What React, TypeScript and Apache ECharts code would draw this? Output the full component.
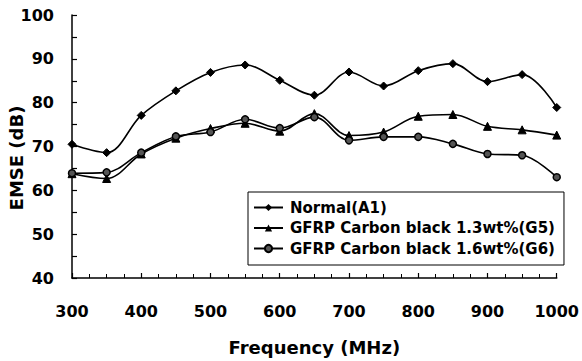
import React, { useEffect, useRef } from "react";
import * as echarts from "echarts";

const frequencies = [300, 350, 400, 450, 500, 550, 600, 650, 700, 750, 800, 850, 900, 950, 1000];
const normalA1 = [70.5, 68.6, 77.1, 82.7, 86.9, 88.6, 85.1, 81.7, 87.0, 83.8, 87.3, 88.9, 84.8, 86.4, 78.9];
const gfrpG5 = [63.8, 62.7, 68.3, 71.9, 74.1, 75.3, 73.5, 77.5, 72.5, 73.3, 76.9, 77.3, 74.6, 73.8, 72.6];
const gfrpG6 = [63.9, 64.1, 68.6, 72.3, 73.3, 76.2, 74.2, 76.7, 71.4, 72.2, 72.2, 70.6, 68.3, 68.0, 63.0];
const seriesNames = ["Normal(A1)", "GFRP Carbon black 1.3wt%(G5)", "GFRP Carbon black 1.6wt%(G6)"];
const xTitle = "Frequency (MHz)";
const yTitle = "EMSE (dB)";

const FONT = "DejaVu Sans";

export default function App() {
  const ref = useRef<HTMLDivElement>(null);
  useEffect(() => {
    if (!ref.current) return;
    const chart = echarts.init(ref.current, undefined, { renderer: "svg" });
    const mk = (vals: number[]) => frequencies.map((f, i) => [f, vals[i]]);
    const base = {
      type: "line" as const,
      smooth: 0.35,
      lineStyle: { color: "#000", width: 1.6 },
      itemStyle: { color: "#000", borderColor: "#000" },
    };
    chart.setOption({
      animation: false,
      backgroundColor: "#fff",
      grid: { left: 72, right: 23, top: 15, bottom: 82 },
      graphic: [
        {
          type: "text",
          x: 16,
          y: 158,
          rotation: Math.PI / 2,
          style: {
            text: yTitle,
            fontFamily: FONT,
            fontWeight: "bold",
            fontSize: 18,
            fill: "#000",
            align: "center",
            verticalAlign: "middle",
          },
        },
      ],
      xAxis: {
        type: "value",
        min: 300,
        max: 1000,
        interval: 100,
        name: xTitle,
        nameLocation: "middle",
        nameGap: 60,
        nameTextStyle: { fontFamily: FONT, fontWeight: "bold", fontSize: 18, color: "#000" },
        axisLine: { lineStyle: { color: "#000", width: 1.5 } },
        axisTick: { inside: true, length: 5, lineStyle: { color: "#000", width: 1.2 } },
        minorTick: { show: true, splitNumber: 4, length: 4, lineStyle: { color: "#000", width: 1 } },
        splitLine: { show: false },
        axisLabel: {
          fontFamily: FONT,
          fontWeight: "bold",
          fontSize: 16,
          color: "#000",
          margin: 25,
          formatter: (v: number) => String(v),
        },
      },
      yAxis: {
        type: "value",
        min: 40,
        max: 100,
        interval: 10,
        axisLine: { show: true, lineStyle: { color: "#000", width: 1.5 } },
        axisTick: { inside: true, length: 5, lineStyle: { color: "#000", width: 1.2 } },
        minorTick: { show: true, splitNumber: 2, length: 5, lineStyle: { color: "#000", width: 1.2 } },
        splitLine: { show: false },
        axisLabel: { fontFamily: FONT, fontWeight: "bold", fontSize: 16, color: "#000", margin: 18 },
      },
      legend: {
        orient: "vertical",
        left: 248,
        top: 192,
        padding: [8, 9, 9, 5],
        itemGap: 5.5,
        itemWidth: 29,
        itemHeight: 9,
        borderColor: "#000",
        borderWidth: 1,
        borderRadius: 0,
        backgroundColor: "#fff",
        textStyle: {
          fontFamily: FONT,
          fontWeight: "bold",
          fontSize: 15,
          lineHeight: 15,
          color: "#000",
          padding: [0, 0, 0, 2],
        },
        data: seriesNames,
      },
      series: [
        { ...base, name: seriesNames[0], data: mk(normalA1), symbol: "diamond", symbolSize: 8 },
        { ...base, name: seriesNames[1], data: mk(gfrpG5), symbol: "triangle", symbolSize: 8 },
        {
          ...base,
          name: seriesNames[2],
          data: mk(gfrpG6),
          symbol: "circle",
          symbolSize: 7,
          itemStyle: { color: "#555", borderColor: "#000", borderWidth: 1.5 },
        },
      ],
    });
    return () => chart.dispose();
  }, []);
  return (
    <div
      ref={ref}
      style={{ position: "absolute", left: 0, top: 0, width: 582, height: 361 }}
    />
  );
}
